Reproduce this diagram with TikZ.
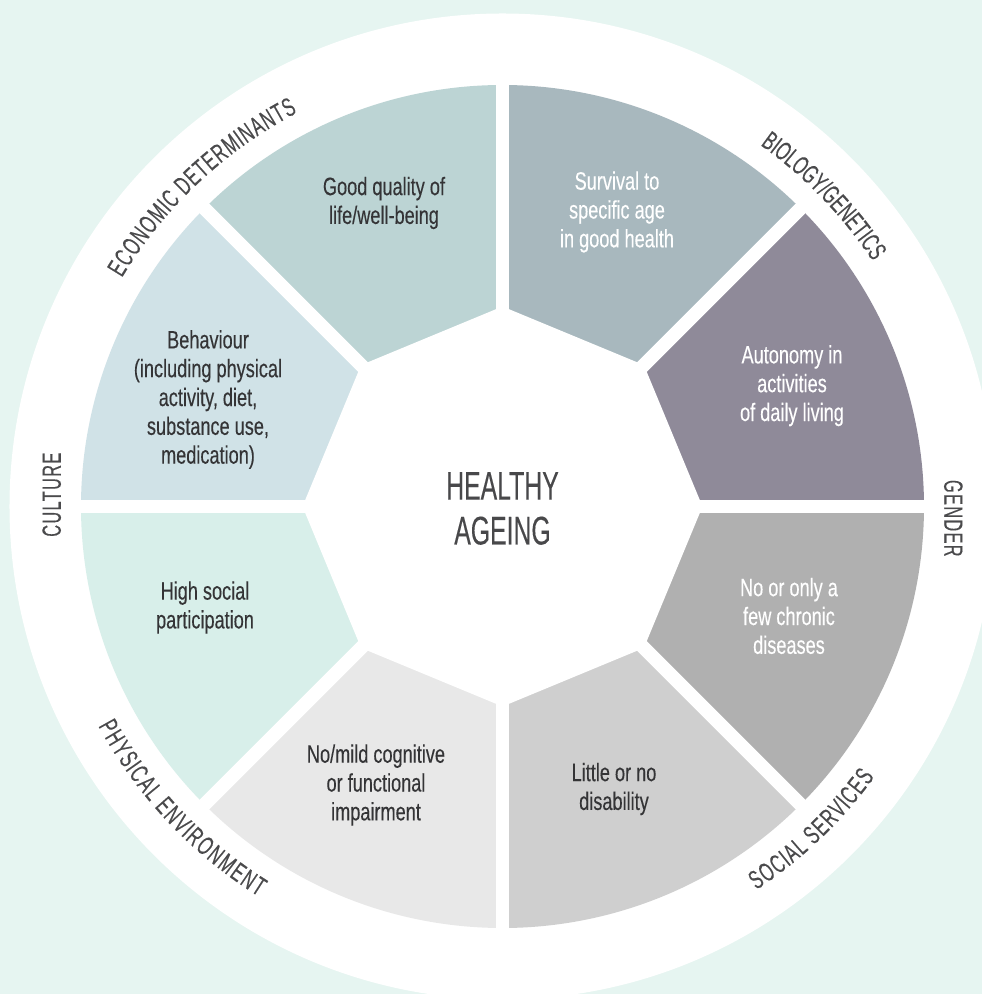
\documentclass[tikz,border=0pt]{standalone}
\usepackage{fontspec}
\setmainfont{Liberation Sans}[FakeStretch=0.72, FakeBold=0.25]
\newfontfamily\rimfamily{Liberation Sans}[FakeStretch=0.62, FakeBold=0.25]
\newfontfamily\rimtrack{Liberation Sans}[FakeStretch=0.62, FakeBold=0.25, LetterSpace=5]
\newfontfamily\hubfamily{Liberation Sans}[FakeStretch=0.62, FakeBold=0.2]
\usepackage{tikz}
\usetikzlibrary{decorations.text}

\definecolor{bgmint}{HTML}{E6F5F1}
\definecolor{segA}{HTML}{BCD4D4}
\definecolor{segB}{HTML}{A8B8BE}
\definecolor{segC}{HTML}{8F8A99}
\definecolor{segD}{HTML}{B0B0B0}
\definecolor{segE}{HTML}{CFCFCF}
\definecolor{segF}{HTML}{E8E8E8}
\definecolor{segG}{HTML}{D8EFEA}
\definecolor{segH}{HTML}{D0E2E7}
\definecolor{textdark}{HTML}{343436}
\definecolor{rimgray}{HTML}{4A4A4C}

\begin{document}
\begin{tikzpicture}[
    x=0.5pt, y=0.5pt,
    seglabel/.style={align=center, text=textdark, font=\fontsize{12.6}{14.4}\selectfont},
    seglight/.style={seglabel, text=white},
    hublabel/.style={align=center, text=textdark!90, font=\hubfamily\fontsize{20}{22.4}\selectfont},
    rimlabel/.style={text=rimgray, font=\rimtrack\fontsize{13.2}{15}\selectfont},
    gapline/.style={white, line width=6.75pt},
    rimtext/.style={decorate, decoration={text effects along path, text={#1},
        text effects/.cd, text along path, fit text to path,
        characters={text=rimgray, inner sep=0pt, font=\rimfamily\fontsize{13.2}{15}\selectfont}}}
]
\useasboundingbox (-502.5,-487.5) rectangle (479.5,506.5);
\clip (-502.5,-487.5) rectangle (479.5,506.5);
\fill[bgmint] (-502.5,-487.5) rectangle (479.5,506.5);
\fill[white] (0,0) circle[radius=493];

% the eight segments
\fill[segA] (0,0) -- (90:421.5) arc[start angle=90, end angle=135, radius=421.5] -- cycle;
\fill[segB] (0,0) -- (45:421.5) arc[start angle=45, end angle=90, radius=421.5] -- cycle;
\fill[segC] (0,0) -- (0:421.5) arc[start angle=0, end angle=45, radius=421.5] -- cycle;
\fill[segD] (0,0) -- (-45:421.5) arc[start angle=-45, end angle=0, radius=421.5] -- cycle;
\fill[segE] (0,0) -- (-90:421.5) arc[start angle=-90, end angle=-45, radius=421.5] -- cycle;
\fill[segF] (0,0) -- (225:421.5) arc[start angle=225, end angle=270, radius=421.5] -- cycle;
\fill[segG] (0,0) -- (180:421.5) arc[start angle=180, end angle=225, radius=421.5] -- cycle;
\fill[segH] (0,0) -- (135:421.5) arc[start angle=135, end angle=180, radius=421.5] -- cycle;

% white hub and gaps
\fill[white] (0:200) -- (45:200) -- (90:200) -- (135:200) -- (180:200)
    -- (225:200) -- (270:200) -- (315:200) -- cycle;
\draw[gapline] (180:430) -- (0:430);
\draw[gapline] (225:430) -- (45:430);
\draw[gapline] (270:430) -- (90:430);
\draw[gapline] (315:430) -- (135:430);

\node (hub) [hublabel] at (0,-2) {HEALTHY\\AGEING};

\node (goodlife) [seglabel] at (-118.5,303.5) {Good quality of\\life/well-being};
\node (survival) [seglight] at (114.5,294.5) {Survival to\\specific age\\in good health};
\node (autonomy) [seglight] at (289.5,120.8) {Autonomy in\\activities\\of daily living};
\node (chronic) [seglight] at (286.5,-109.5) {No or only a\\few chronic\\diseases};
\node (disability) [seglabel] at (111.5,-282.5) {Little or no\\disability};
\node (cognitive) [seglabel] at (-126.5,-278.5) {No/mild cognitive\\or functional\\impairment};
\node (social) [seglabel] at (-297.5,-101) {High social\\participation};
\node (behaviour) [seglabel] at (-294.5,107) {Behaviour\\(including physical\\activity, diet,\\substance use,\\medication)};

% determinants round the rim
\path[rimtext={ECONOMIC DETERMINANTS}] (149:444) arc[start angle=149, end angle=117.5, radius=444];
\path[rimtext={BIOLOGY/GENETICS}] (54.5:444) arc[start angle=54.5, end angle=33.5, radius=444];
\path[rimtext={SOCIAL SERVICES}] (-56.5:460) arc[start angle=-56.5, end angle=-36, radius=460];
\path[rimtext={PHYSICAL ENVIRONMENT}] (208.5:460) arc[start angle=208.5, end angle=238, radius=460];
\node (gender) [rimlabel, rotate=-90] at (-1.5:451) {GENDER};
\node (culture) [rimlabel, rotate=90] at (178.5:451) {CULTURE};
\end{tikzpicture}
\end{document}
